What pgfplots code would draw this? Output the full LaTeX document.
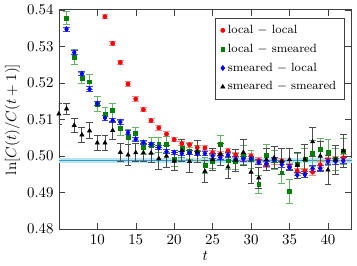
\documentclass[border=0pt]{standalone}
\usepackage{pgfplots}
\pgfplotsset{compat=1.18}
\definecolor{dgreen}{rgb}{0,0.5,0}
\definecolor{bandline}{rgb}{0.2,0.62,0.8}
\definecolor{bandfill}{rgb}{0.72,0.89,0.95}
\begin{document}
\begin{tikzpicture}
\begin{axis}[
  width=196.7pt, height=147.3pt, scale only axis,
  xmin=5, xmax=43.1, ymin=0.48, ymax=0.54,
  xtick={10,15,20,25,30,35,40},
  ytick={0.48,0.49,0.50,0.51,0.52,0.53,0.54},
  yticklabel style={/pgf/number format/.cd, fixed, fixed zerofill, precision=2},
  tick align=inside, tick pos=both,
  axis line style={black!75},
  major tick style={black!75},
  xlabel={$t$}, ylabel={$\ln[C(t)/C(t+1)]$},
  xlabel style={yshift=2pt},
  ylabel style={yshift=-2pt},
  legend style={at={(0.976,0.962)}, anchor=north east, font=\footnotesize, draw=black!75, inner xsep=3.5pt, inner ysep=2.5pt, row sep=1.6pt},
  legend cell align=left,
  clip=true,
  error bars/y dir=both, error bars/y explicit,
]
\addplot[draw=none, fill=bandfill, forget plot] coordinates {(5,0.4982) (43.1,0.4982) (43.1,0.4995) (5,0.4995)} -- cycle;
\addplot[bandline, line width=0.6pt, forget plot] coordinates {(5,0.4988) (43.1,0.4988)};

% local - local (red)
\addplot[only marks, mark=*, mark size=1.4pt, color=red,
  error bars/error bar style={red!45, line width=0.6pt},
  error bars/error mark options={rotate=90, mark size=2.3pt, red!45, line width=0.6pt}]
coordinates {
(11,0.5381) +- (0,0.0006)
(12,0.5308) +- (0,0.0006)
(13,0.5256) +- (0,0.0006)
(14,0.5197) +- (0,0.0006)
(15,0.5156) +- (0,0.0006)
(16,0.5127) +- (0,0.0006)
(17,0.5097) +- (0,0.0006)
(18,0.5077) +- (0,0.0006)
(19,0.5060) +- (0,0.0006)
(20,0.5045) +- (0,0.0006)
(21,0.5034) +- (0,0.0006)
(22,0.5031) +- (0,0.0007)
(23,0.5023) +- (0,0.0007)
(24,0.5022) +- (0,0.0007)
(25,0.5009) +- (0,0.0007)
(26,0.5005) +- (0,0.0007)
(27,0.5014) +- (0,0.0007)
(28,0.5003) +- (0,0.0007)
(29,0.4996) +- (0,0.0007)
(30,0.5000) +- (0,0.0007)
(31,0.4988) +- (0,0.0008)
(32,0.4977) +- (0,0.0008)
(33,0.4986) +- (0,0.0008)
(34,0.4986) +- (0,0.0008)
(35,0.4971) +- (0,0.0008)
(36,0.4959) +- (0,0.0008)
(37,0.4959) +- (0,0.0008)
(38,0.4956) +- (0,0.0008)
(39,0.4976) +- (0,0.0008)
(40,0.4989) +- (0,0.0008)
(41,0.4992) +- (0,0.0008)
(42,0.4995) +- (0,0.0008)
};
\addlegendentry{local $-$ local}

% local - smeared (green)
\addplot[only marks, mark=square*, mark size=1.3pt, color=dgreen,
  error bars/error bar style={dgreen!60, line width=0.6pt},
  error bars/error mark options={rotate=90, mark size=2.3pt, dgreen!60, line width=0.6pt}]
coordinates {
(6,0.5377) +- (0,0.0018)
(7,0.5271) +- (0,0.0020)
(8,0.5213) +- (0,0.0015)
(9,0.5203) +- (0,0.0020)
(10,0.5142) +- (0,0.0020)
(11,0.5114) +- (0,0.0018)
(12,0.5124) +- (0,0.0020)
(13,0.5077) +- (0,0.0020)
(14,0.5052) +- (0,0.0020)
(15,0.5061) +- (0,0.0018)
(16,0.5023) +- (0,0.0018)
(17,0.5030) +- (0,0.0022)
(18,0.5031) +- (0,0.0020)
(19,0.5032) +- (0,0.0022)
(20,0.4991) +- (0,0.0020)
(21,0.5021) +- (0,0.0025)
(22,0.5012) +- (0,0.0022)
(23,0.5009) +- (0,0.0020)
(24,0.4974) +- (0,0.0022)
(25,0.4985) +- (0,0.0020)
(26,0.5031) +- (0,0.0025)
(27,0.4987) +- (0,0.0025)
(28,0.4985) +- (0,0.0023)
(29,0.5003) +- (0,0.0025)
(30,0.4990) +- (0,0.0025)
(31,0.4923) +- (0,0.0025)
(32,0.5003) +- (0,0.0030)
(33,0.4989) +- (0,0.0025)
(34,0.4954) +- (0,0.0030)
(35,0.4904) +- (0,0.0033)
(36,0.4977) +- (0,0.0030)
(37,0.4992) +- (0,0.0030)
(38,0.5007) +- (0,0.0035)
(39,0.5018) +- (0,0.0030)
(40,0.5009) +- (0,0.0035)
(41,0.4991) +- (0,0.0030)
(42,0.5012) +- (0,0.0035)
};
\addlegendentry{local $-$ smeared}

% smeared - local (blue)
\addplot[only marks, mark=diamond*, mark size=1.7pt, color=blue,
  error bars/error bar style={blue!75, line width=0.6pt},
  error bars/error mark options={rotate=90, mark size=2.3pt, blue!75, line width=0.6pt}]
coordinates {
(6,0.5347) +- (0,0.0006)
(7,0.5283) +- (0,0.0006)
(8,0.5225) +- (0,0.0006)
(9,0.5183) +- (0,0.0006)
(10,0.5143) +- (0,0.0006)
(11,0.5104) +- (0,0.0006)
(12,0.5097) +- (0,0.0006)
(13,0.5093) +- (0,0.0006)
(14,0.5064) +- (0,0.0006)
(15,0.5046) +- (0,0.0006)
(16,0.5037) +- (0,0.0006)
(17,0.5032) +- (0,0.0006)
(18,0.5023) +- (0,0.0006)
(19,0.5012) +- (0,0.0006)
(20,0.5010) +- (0,0.0006)
(21,0.5007) +- (0,0.0006)
(22,0.5009) +- (0,0.0006)
(23,0.5007) +- (0,0.0006)
(24,0.5007) +- (0,0.0006)
(25,0.5000) +- (0,0.0006)
(26,0.4996) +- (0,0.0006)
(27,0.5003) +- (0,0.0006)
(28,0.4992) +- (0,0.0007)
(29,0.4992) +- (0,0.0007)
(30,0.4992) +- (0,0.0007)
(31,0.4983) +- (0,0.0007)
(32,0.4979) +- (0,0.0007)
(33,0.4990) +- (0,0.0007)
(34,0.4977) +- (0,0.0007)
(35,0.4969) +- (0,0.0007)
(36,0.4948) +- (0,0.0008)
(37,0.4949) +- (0,0.0008)
(38,0.4966) +- (0,0.0008)
(39,0.4966) +- (0,0.0008)
(40,0.4985) +- (0,0.0008)
(41,0.4985) +- (0,0.0008)
(42,0.4987) +- (0,0.0008)
};
\addlegendentry{smeared $-$ local}

% smeared - smeared (black)
\addplot[only marks, mark=triangle*, mark size=1.6pt, color=black,
  error bars/error bar style={black!70, line width=0.6pt},
  error bars/error mark options={rotate=90, mark size=2.3pt, black!70, line width=0.6pt}]
coordinates {
(5,0.5115) +- (0,0.0030)
(6,0.5129) +- (0,0.0015)
(7,0.5084) +- (0,0.0020)
(8,0.5058) +- (0,0.0020)
(9,0.5069) +- (0,0.0022)
(10,0.5036) +- (0,0.0020)
(11,0.5036) +- (0,0.0020)
(12,0.5070) +- (0,0.0025)
(13,0.5010) +- (0,0.0025)
(14,0.5003) +- (0,0.0030)
(15,0.5009) +- (0,0.0025)
(16,0.5009) +- (0,0.0025)
(17,0.5008) +- (0,0.0025)
(18,0.4993) +- (0,0.0030)
(19,0.5000) +- (0,0.0030)
(20,0.4986) +- (0,0.0025)
(21,0.5015) +- (0,0.0030)
(22,0.4985) +- (0,0.0030)
(23,0.5012) +- (0,0.0030)
(24,0.4958) +- (0,0.0030)
(25,0.4990) +- (0,0.0030)
(26,0.5005) +- (0,0.0030)
(27,0.4970) +- (0,0.0030)
(28,0.4989) +- (0,0.0030)
(29,0.5010) +- (0,0.0035)
(30,0.4956) +- (0,0.0030)
(31,0.4940) +- (0,0.0030)
(32,0.4990) +- (0,0.0030)
(33,0.4995) +- (0,0.0030)
(34,0.4985) +- (0,0.0035)
(35,0.4990) +- (0,0.0030)
(36,0.4975) +- (0,0.0035)
(37,0.4991) +- (0,0.0040)
(38,0.5039) +- (0,0.0040)
(39,0.5000) +- (0,0.0040)
(40,0.4962) +- (0,0.0040)
(41,0.4990) +- (0,0.0040)
(42,0.5014) +- (0,0.0045)
};
\addlegendentry{smeared $-$ smeared}
\end{axis}
\path ([xshift=3.5pt]current axis.east);
\end{tikzpicture}
\end{document}
